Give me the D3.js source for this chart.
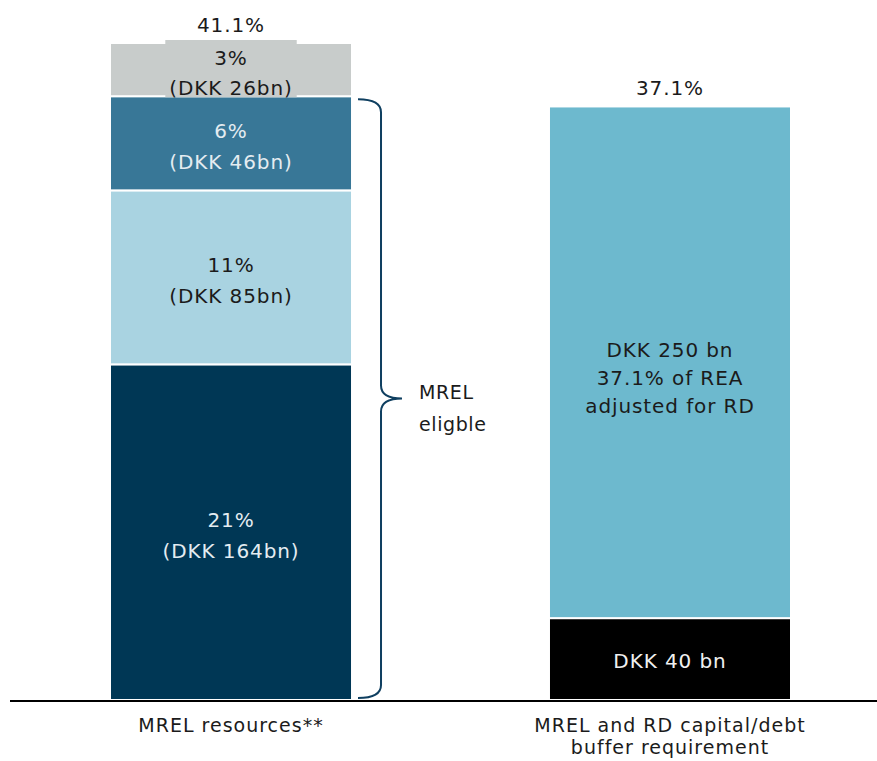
<!DOCTYPE html>
<html>
<head>
<meta charset="utf-8">
<script src="https://cdn.jsdelivr.net/npm/d3@7"></script>
<style>
  html, body { margin: 0; padding: 0; background: #fff; }
  svg { display: block; }
  text { font-family: "DejaVu Sans", sans-serif; }
</style>
</head>
<body>
<svg id="chart" width="877" height="761"></svg>
<script>
// ---- Data ----
const categories = ["MREL resources**", "MREL and RD capital/debt buffer requirement"];
const categoryLines = [["MREL resources**"], ["MREL and RD capital/debt", "buffer requirement"]];

// Left bar: MREL resources (DKK bn), bottom to top
const resourceValues = [164, 85, 46, 26];
const resourceLabels = [["21%", "(DKK 164bn)"], ["11%", "(DKK 85bn)"], ["6%", "(DKK 46bn)"], ["3%", "(DKK 26bn)"]];
const resourceColors = ["#003755", "#a9d3e1", "#387797", "#c8cccb"];
const resourceTextColors = ["#e4ecf1", "#1b1b1b", "#e4ecf1", "#1b1b1b"];

// Right bar: requirement (DKK bn), bottom to top
const requirementValues = [40, 250];
const requirementLabels = [["DKK 40 bn"], ["DKK 250 bn", "37.1% of REA", "adjusted for RD"]];
const requirementColors = ["#000000", "#6db9ce"];
const requirementTextColors = ["#f0f0f0", "#1b1b1b"];

const totalLabels = ["41.1%", "37.1%"];
const braceLabel = ["MREL", "eligble"];
const eligibleCount = 3; // bottom three segments of the left bar

// ---- Layout ----
const svg = d3.select("#chart");
const baseY = 700;
const x = d3.scaleBand().domain(categories).range([110, 791]).paddingInner(0.4487).paddingOuter(0);
const y = d3.scaleLinear().domain([0, 321]).range([baseY, 43]);

function stack(vals) {
  let acc = 0;
  return vals.map(v => { const s = { y0: acc, y1: acc + v, v }; acc += v; return s; });
}

const bars = [
  { cat: categories[0], segs: stack(resourceValues), labels: resourceLabels, colors: resourceColors, tcol: resourceTextColors },
  { cat: categories[1], segs: stack(requirementValues), labels: requirementLabels, colors: requirementColors, tcol: requirementTextColors }
];

const fontSize = 20;
const ls = "0.9px";

bars.forEach((b, bi) => {
  const g = svg.append("g");
  const bx = x(b.cat), bw = x.bandwidth(), cx = bx + bw / 2;
  g.selectAll("rect.seg").data(b.segs).join("rect")
    .attr("class", "seg")
    .attr("x", bx)
    .attr("width", bw)
    .attr("y", d => y(d.y1))
    .attr("height", d => y(d.y0) - y(d.y1))
    .attr("fill", (d, i) => b.colors[i])
    .attr("stroke", "#fff")
    .attr("stroke-width", 2);

  b.segs.forEach((s, i) => {
    const lines = b.labels[i];
    const mid = (y(s.y0) + y(s.y1)) / 2;
    let firstBase;
    if (lines.length === 1) firstBase = mid + 9;
    else firstBase = mid - 5;
    const lh = lines.length === 3 ? 28 : 30.5;
    const tg = g.append("g");
    const t = tg.append("text")
      .attr("text-anchor", "middle")
      .attr("font-size", fontSize)
      .attr("letter-spacing", ls)
      .attr("fill", b.tcol[i]);
    lines.forEach((ln, li) => {
      t.append("tspan").attr("x", cx).attr("y", firstBase + li * lh).text(ln);
    });
    // background box for the top (small) segment label of the left bar
    if (bi === 0 && i === b.segs.length - 1) {
      const bb = t.node().getBBox();
      tg.insert("rect", "text")
        .attr("x", bb.x - 4).attr("y", y(s.y1) - 3)
        .attr("width", bb.width + 8)
        .attr("height", y(s.y0) - y(s.y1) + 4)
        .attr("fill", b.colors[i]);
    }
  });

  // total label on top
  const top = b.segs[b.segs.length - 1].y1;
  g.append("text")
    .attr("x", cx)
    .attr("y", y(top) - 11)
    .attr("text-anchor", "middle")
    .attr("font-size", fontSize)
    .attr("letter-spacing", ls)
    .attr("fill", "#1b1b1b")
    .text(totalLabels[bi]);

  // category label
  const ct = g.append("text")
    .attr("text-anchor", "middle")
    .attr("font-size", 19)
    .attr("letter-spacing", "1px")
    .attr("fill", "#1b1b1b");
  categoryLines[bi].forEach((ln, li) => {
    ct.append("tspan").attr("x", cx).attr("y", baseY + 32 + li * 22).text(ln);
  });
});

// baseline
svg.append("line")
  .attr("x1", 10).attr("x2", 877)
  .attr("y1", baseY + 1).attr("y2", baseY + 1)
  .attr("stroke", "#000").attr("stroke-width", 2);

// brace around MREL-eligible segments
const leftSegs = bars[0].segs;
const bTop = y(leftSegs[eligibleCount - 1].y1) + 3;
const bBot = y(0) - 2;
const bMid = (bTop + bBot) / 2;
const x0 = x(categories[0]) + x.bandwidth() + 6;
const x1 = x0 + 23;
const x2 = x1 + 21;
const r = 13;
const bracePath = `M${x0},${bTop} Q${x1},${bTop} ${x1},${bTop + r} L${x1},${bMid - r} Q${x1},${bMid} ${x2},${bMid} Q${x1},${bMid} ${x1},${bMid + r} L${x1},${bBot - r} Q${x1},${bBot} ${x0},${bBot}`;
svg.append("path")
  .attr("d", bracePath)
  .attr("fill", "none")
  .attr("stroke", "#0f3f60")
  .attr("stroke-width", 2);

const bt = svg.append("text")
  .attr("font-size", 19)
  .attr("letter-spacing", "0.6px")
  .attr("fill", "#1b1b1b");
braceLabel.forEach((ln, li) => {
  bt.append("tspan").attr("x", x2 + 17).attr("y", bMid + li * 32).text(ln);
});
</script>
</body>
</html>
